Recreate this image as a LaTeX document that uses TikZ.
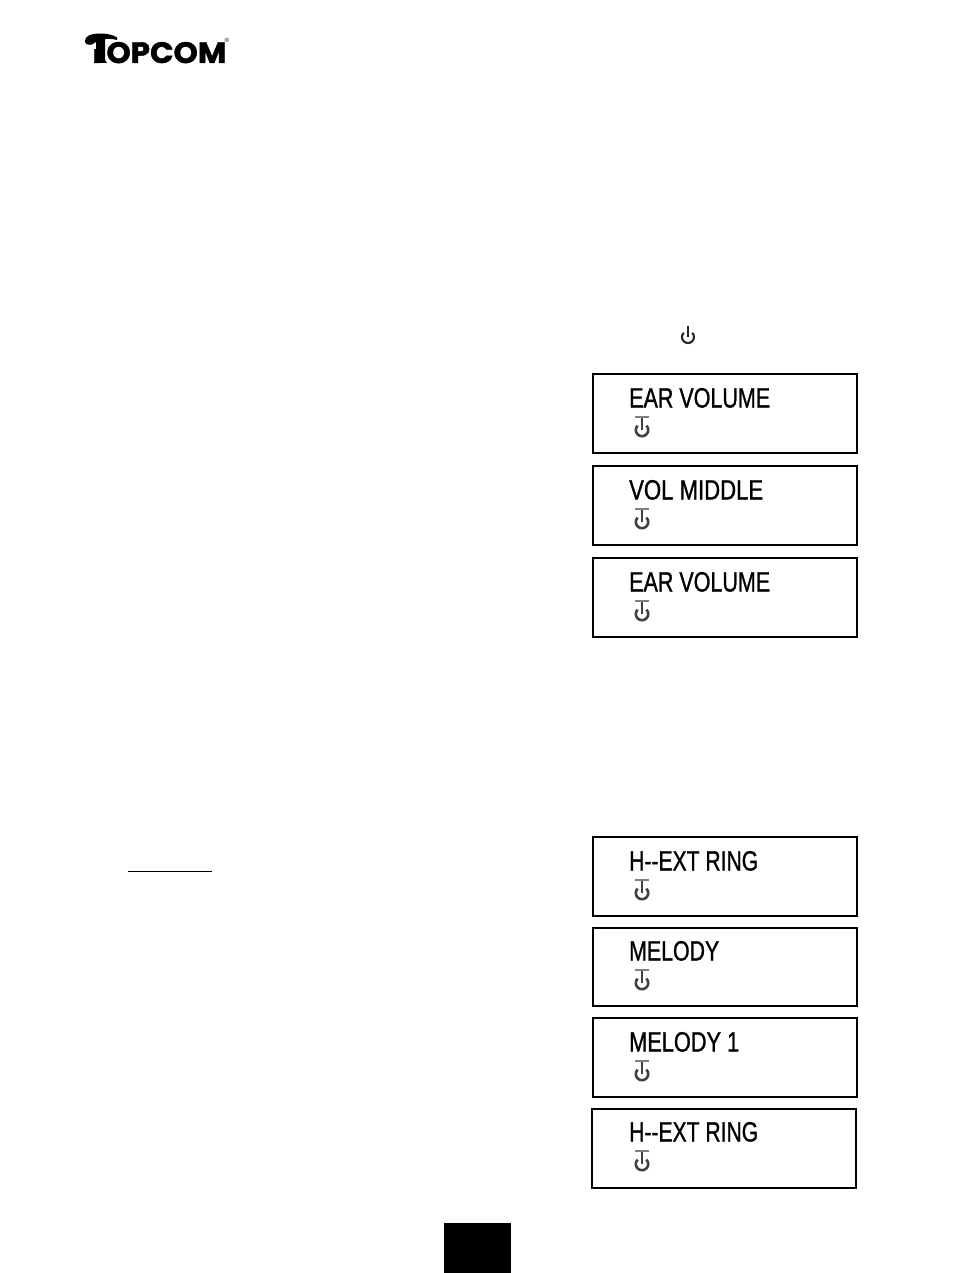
\documentclass[tikz,border=0pt]{standalone}
\usepackage{graphicx}
\usepackage{fontspec}
\setmainfont{Liberation Sans}
\newfontfamily\lcdfont[FakeBold=1.2]{Liberation Sans}
\newfontfamily\logofont[BoldFeatures={FakeBold=1.4}]{Poppins}
\newcommand{\lcdtext}[2]{\resizebox{#1pt}{19.5pt}{\lcdfont\fontsize{28}{30}\selectfont #2}}
\tikzset{
  x=1pt,y=-1pt,
  lcdbox/.style={draw=black,line width=2pt,minimum width=263.8pt,minimum height=78.3pt,inner sep=0pt,outer sep=0pt,anchor=north west},
  lcdlabel/.style={anchor=base west,inner sep=0pt,text=black},
  powericon/.pic={
    \draw[line width=2.6pt,black!75] (4.4,-4.4) arc[start angle=-45,end angle=225,radius=6.2];
    \draw[line width=2.4pt,black!75] (0,-14) -- (0,0);
    \draw[line width=2pt,black!50] (-7,-13) -- (7,-13);
  },
  smallpower/.pic={
    \draw[line width=2.1pt,black!85] (4.2,-4.2) arc[start angle=-45,end angle=225,radius=6];
    \draw[line width=2pt,black!85] (0,-11) -- (0,0);
  }
}
\begin{document}
\begin{tikzpicture}
\useasboundingbox (0,0) rectangle (954,1273);
\fill[white] (0,0) rectangle (954,1273);
% logo
\node[lcdlabel] (logotext) at (88,63) {\resizebox{138pt}{21pt}{\logofont\bfseries TOPCOM}};
\node[lcdlabel] (logoreg) at (224.5,43) {\fontsize{6}{6}\selectfont ®};
\fill[white] (84,39) rectangle (106,49);
\fill[black] (85,41) .. controls (85,36) and (91,33.5) .. (100,33.5) .. controls (108,33.5) and (113,35) .. (117,37.5) -- (117,40) .. controls (112,38.5) and (106,38.5) .. (101,39.5) .. controls (97,40.5) and (95,43) .. (92,44.5) .. controls (88,45.5) and (85,44) .. (85,41) -- cycle;
\fill[black] (96,38) -- (105,38) -- (105,60) -- (107,63) -- (94,63) -- (96,60) -- cycle;
% small power symbol
\pic at (688,337) {smallpower};
% boxes
\node[lcdbox] (b1) at (593.2,374.2) {};
\node[lcdbox] (b2) at (593.2,466.2) {};
\node[lcdbox] (b3) at (593.2,558.2) {};
\node[lcdbox] (b4) at (593.2,837.2) {};
\node[lcdbox,minimum height=77.3pt] (b5) at (593.2,928.2) {};
\node[lcdbox] (b6) at (593.2,1018.2) {};
\node[lcdbox] (b7) at (592.2,1109.2) {};
% texts
\node[lcdlabel] (t1) at (629,407.5) {\lcdtext{141}{EAR VOLUME}};
\node[lcdlabel] (t2) at (629,499.5) {\lcdtext{134}{VOL MIDDLE}};
\node[lcdlabel] (t3) at (629,591.5) {\lcdtext{141}{EAR VOLUME}};
\node[lcdlabel] (t4) at (629,870.5) {\lcdtext{129}{H{-}{-}EXT RING}};
\node[lcdlabel] (t5) at (629,960.5) {\lcdtext{90}{MELODY}};
\node[lcdlabel] (t6) at (629,1051.5) {\lcdtext{110}{MELODY 1}};
\node[lcdlabel] (t7) at (629,1141.5) {\lcdtext{129}{H{-}{-}EXT RING}};
% icons
\foreach \yy in {430,522,614,893,983,1074,1164} \pic at (642,\yy) {powericon};
% underline
\coordinate (ula) at (128,871.5);
\coordinate (ulb) at (212,871.5);
\draw[line width=1.4pt] (ula) -- (ulb);
% page tab
\node[fill=black,minimum width=67pt,minimum height=50pt,inner sep=0pt,outer sep=0pt,anchor=north west] (tab) at (444,1223) {};
\end{tikzpicture}
\end{document}
